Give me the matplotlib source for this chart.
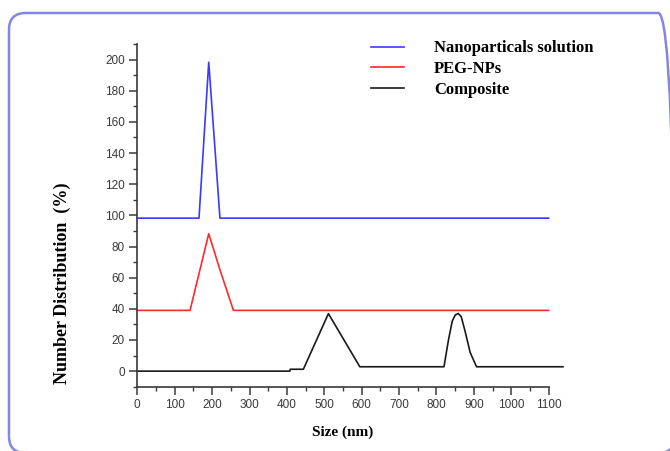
import matplotlib
matplotlib.use("Agg")
import matplotlib.pyplot as plt
from matplotlib.patches import FancyBboxPatch
from matplotlib.ticker import MultipleLocator

# Data (size in nm, number distribution in %)
nano_x = [0, 165, 191, 221, 1100]
nano_y = [98.2, 98.2, 198.3, 98.2, 98.2]

peg_x = [0, 141, 191, 221, 257, 1100]
peg_y = [39, 39, 88.2, 65, 39, 39]

comp_x = [0, 408, 409, 444, 511, 595, 820, 832, 842, 850, 858, 866, 876, 890, 907, 1138]
comp_y = [0, 0, 1.2, 1.2, 36.9, 2.8, 2.8, 20, 32, 36, 37, 35, 26, 12, 2.8, 2.8]

labels = ["Nanoparticals solution", "PEG-NPs", "Composite"]
colors = ["#3a3aff", "#ff2a2a", "#1a1a1a"]

W, H = 670, 451
fig = plt.figure(figsize=(W / 100, H / 100), dpi=100)

# rounded frame around the figure
frame = FancyBboxPatch((9 / W, -2 / H), (675 - 9) / W, (H + 2 - 13) / H,
                       boxstyle="round,pad=0,rounding_size=0.025",
                       transform=fig.transFigure, fill=False,
                       edgecolor="#8585e6", linewidth=1.8, clip_on=False,
                       mutation_aspect=W / H)
fig.patches.append(frame)

ax = fig.add_axes([137.3 / W, 1 - 386.7 / H, 411.4 / W, (386.7 - 44) / H])

series = [(nano_x, nano_y), (peg_x, peg_y), (comp_x, comp_y)]
for (xs, ys), lab, c in zip(series, labels, colors):
    ax.plot(xs, ys, color=c, lw=1.2, label=lab, clip_on=False)

ax.set_xlim(0, 1100)
ax.set_ylim(-10, 210)
ax.xaxis.set_major_locator(MultipleLocator(100))
ax.xaxis.set_minor_locator(MultipleLocator(50))
ax.yaxis.set_minor_locator(MultipleLocator(10))
ax.set_yticks(range(0, 201, 20))

for s in ["top", "right"]:
    ax.spines[s].set_visible(False)
for s in ["left", "bottom"]:
    ax.spines[s].set_color("#3a3a3a")
    ax.spines[s].set_linewidth(1.2)

ax.tick_params(which="major", direction="out", length=5.5, width=1.1,
               colors="#3a3a3a", labelsize=8.5, pad=3.5)
ax.tick_params(which="minor", direction="out", length=3, width=1.0,
               colors="#3a3a3a")
for t in ax.get_xticklabels() + ax.get_yticklabels():
    t.set_fontfamily("Liberation Sans")

ax.set_xlabel("Size (nm)", fontfamily="Liberation Serif", fontweight="bold",
              fontsize=11, labelpad=10)
ax.set_ylabel("Number Distribution  (%)", fontfamily="Liberation Serif",
              fontweight="bold", fontsize=13)
ax.yaxis.label.set_va("center")
ax.yaxis.set_label_coords((62 - 137.3) / 411.4, (386.7 - 283) / (386.7 - 44))

leg = ax.legend(loc="upper left", bbox_to_anchor=((364 - 137.3) / 411.4, 1.03),
                frameon=False,
                prop={"family": "Liberation Serif", "weight": "bold", "size": 12},
                handlelength=2.0, handletextpad=1.8, labelspacing=0.28,
                borderaxespad=0)

fig.savefig("out.png", dpi=100)
